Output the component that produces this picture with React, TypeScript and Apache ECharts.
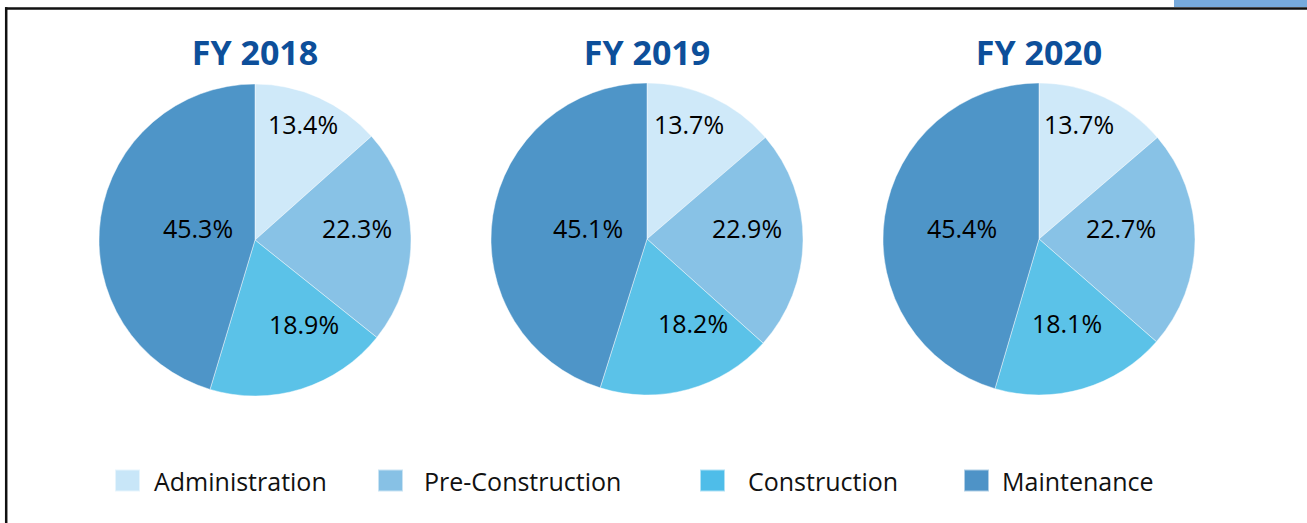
import React, { useEffect, useRef } from "react";
import * as echarts from "echarts";

const categories = ["Administration", "Pre-Construction", "Construction", "Maintenance"];
const years = ["FY 2018", "FY 2019", "FY 2020"];
const fy2018 = [13.4, 22.3, 18.9, 45.3];
const fy2019 = [13.7, 22.9, 18.2, 45.1];
const fy2020 = [13.7, 22.7, 18.1, 45.4];
const yearValues = [fy2018, fy2019, fy2020];

// styles / layout
const sliceColors = ["#cfe9f9", "#88c2e6", "#5bc2e8", "#4e95c8"];
const legendColors = ["#c8e6f8", "#87c1e5", "#4ebde9", "#4e93c7"];
const pieCenters: [number, number][] = [
  [255, 240],
  [647, 239],
  [1039, 239],
];
const pieRadius = 156;
// label offsets from each pie's centre
const labelOffsets: [number, number][][] = [
  [[48, -116], [102, -12], [49, 84], [-57, -12]],
  [[42, -115], [100, -11], [46, 84], [-59, -11]],
  [[40, -115], [82, -11], [28, 84], [-77, -11]],
];
const legendLeft = [114, 377, 699, 963];
const legendTextGap = [9, 16, 18, 8];
const FONT = "'Open Sans', 'Noto Sans', sans-serif";

export default function App() {
  const ref = useRef<HTMLDivElement>(null);

  useEffect(() => {
    if (!ref.current) return;
    const chart = echarts.init(ref.current, undefined, { renderer: "svg" });

    const series = yearValues.map((vals, si) => ({
      type: "pie",
      name: years[si],
      center: pieCenters[si],
      radius: pieRadius,
      startAngle: 90,
      clockwise: true,
      silent: true,
      avoidLabelOverlap: false,
      itemStyle: { borderColor: "rgba(255,255,255,0.55)", borderWidth: 0.8 },
      label: {
        show: true,
        position: "inside",
        color: "#000",
        fontFamily: FONT,
        fontSize: 25,
        formatter: (p: any) => `${Number(p.value).toFixed(1)}%`,
      },
      labelLine: { show: false },
      labelLayout: (params: any) => {
        const c = pieCenters[si];
        const o = labelOffsets[si][params.dataIndex];
        return { x: c[0] + o[0], y: c[1] + o[1], align: "center", verticalAlign: "middle" };
      },
      data: categories.map((name, i) => ({
        name,
        value: vals[i],
        itemStyle: { color: sliceColors[i] },
      })),
    }));

    const titles = years.map((t, i) => ({
      text: t,
      left: pieCenters[i][0],
      top: 35,
      padding: 0,
      textAlign: "center",
      textStyle: {
        color: "#0d4f9a",
        fontFamily: FONT,
        fontWeight: "bold",
        fontSize: 34,
      },
    }));

    const legends = categories.map((name, i) => ({
      data: [{ name, itemStyle: { color: legendColors[i] } }],
      left: legendLeft[i],
      top: 468,
      orient: "horizontal",
      icon: "rect",
      itemWidth: 25,
      itemHeight: 22,
      selectedMode: false,
      padding: 0,
      textStyle: {
        color: "#111",
        fontFamily: FONT,
        fontSize: 25,
        padding: [0, 0, 0, legendTextGap[i]],
      },
    }));

    chart.setOption({
      animation: false,
      backgroundColor: "#ffffff",
      title: titles,
      legend: legends,
      series,
      graphic: [
        {
          type: "rect",
          shape: { x: 1174, y: 0, width: 133, height: 7 },
          style: { fill: "#77aadc" },
          silent: true,
        },
        {
          type: "line",
          shape: { x1: 5, y1: 8.5, x2: 1307, y2: 8.5 },
          style: { stroke: "#111", lineWidth: 2.5 },
          silent: true,
        },
        {
          type: "line",
          shape: { x1: 6.2, y1: 7.3, x2: 6.2, y2: 523 },
          style: { stroke: "#111", lineWidth: 2.5 },
          silent: true,
        },
      ],
    });

    return () => chart.dispose();
  }, []);

  return (
    <div
      ref={ref}
      style={{ position: "fixed", left: 0, top: 0, width: 1307, height: 523, background: "#fff" }}
    />
  );
}
